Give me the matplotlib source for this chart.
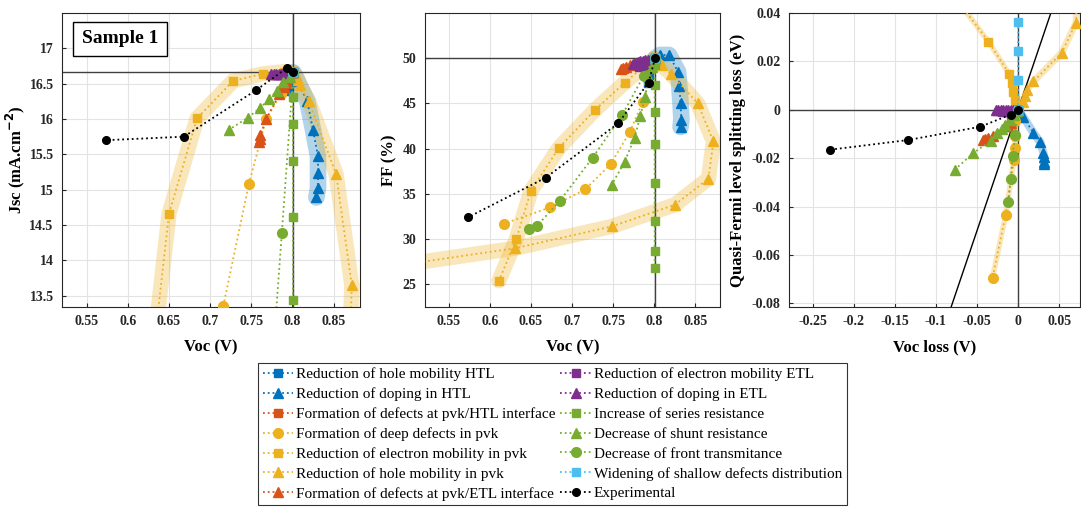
import numpy as np
import matplotlib.pyplot as plt
from matplotlib.ticker import FuncFormatter, MultipleLocator

plt.rcParams['font.family'] = ['Liberation Serif', 'DejaVu Serif']

# MATLAB default colours
blue = '#0072BD'
orange = '#D95319'
yellow = '#EDB120'
purple = '#7E2F8E'
green = '#77AC30'
cyan = '#4DBEEE'

# reference device
voc_ref = 0.801
jsc_ref = 16.66
ff_ref = 50.0

# ---- data ----
# Reduction of hole mobility HTL
hmhtl_voc = [0.801, 0.799, 0.797, 0.794, 0.792]
hmhtl_jsc = [16.66, 16.60, 16.53, 16.45, 16.39]
hmhtl_ff = [50.0, 49.6, 49.0, 48.2, 47.3]
hmhtl_dv = [0.0, -0.003, -0.006, -0.009]
hmhtl_dq = [0.0, -0.0005, -0.001, -0.0015]

# Reduction of doping in HTL
dhtl_voc1 = [0.801, 0.806, 0.818, 0.825, 0.831, 0.831, 0.831, 0.829]
dhtl_jsc = [16.66, 16.54, 16.25, 15.84, 15.47, 15.24, 15.02, 14.89]
dhtl_voc2 = [0.801, 0.807, 0.818, 0.829, 0.8305, 0.832, 0.833, 0.832]
dhtl_ff = [50.0, 50.36, 50.36, 48.5, 46.9, 45.0, 43.2, 42.4]
dhtl_dv = [0.0, 0.0065, 0.0187, 0.027, 0.031, 0.0315, 0.0315, 0.0315]
dhtl_dq = [0.0, -0.003, -0.0095, -0.0133, -0.0178, -0.0196, -0.0215, -0.0225]

# Formation of defects at pvk/HTL interface
dfhtl_voc = [0.801, 0.797, 0.793, 0.789]
dfhtl_jsc = [16.66, 16.58, 16.50, 16.41]
dfhtl_ff = [50.0, 49.5, 48.8, 48.2]
dfhtl_dv = [0.0, -0.004, -0.008, -0.012]
dfhtl_dq = [0.0, -0.002, -0.0045, -0.007]

# Formation of deep defects in pvk
deep_voc = [0.801, 0.786, 0.768, 0.747, 0.716, 0.673, 0.617]
deep_jsc = [16.66, 16.35, 16.0, 15.08, 13.36, 11.0, 9.0]
deep_voc2 = [0.801, 0.786, 0.770, 0.747, 0.716, 0.673, 0.617]
deep_ff = [50.0, 45.2, 41.8, 38.3, 35.5, 33.5, 31.7]
deep_dv = [0.0, -0.0037, -0.004, -0.0037, -0.0049, -0.015, -0.031]
deep_dq = [0.0, -0.0048, -0.011, -0.0158, -0.0206, -0.0433, -0.0694]

# Reduction of electron mobility in pvk
empvk_voc = [0.801, 0.790, 0.764, 0.728, 0.684, 0.650, 0.632, 0.611]
empvk_jsc = [16.66, 16.67, 16.64, 16.54, 16.01, 14.66, 12.8, 11.0]
empvk_ff = [50.0, 49.3, 47.3, 44.3, 40.1, 35.35, 30.0, 25.4]
empvk_dv = [0.0, -0.0016, -0.0037, -0.0057, -0.0077, -0.0106, -0.036, -0.08]
empvk_dq = [0.0, 0.0016, 0.0041, 0.0073, 0.011, 0.0148, 0.0282, 0.048]

# Reduction of hole mobility in pvk
hmpvk_voc = [0.801, 0.804, 0.807, 0.809, 0.820, 0.853, 0.872, 0.866, 0.825, 0.748, 0.631, 0.45]
hmpvk_jsc = [16.66, 16.62, 16.55, 16.48, 16.25, 15.22, 13.65, 11.5, 9.5, 8.0, 6.5, 5.0]
hmpvk_ff = [50.0, 49.8, 49.5, 49.2, 48.3, 45.0, 40.8, 36.7, 33.8, 31.4, 29.0, 26.6]
hmpvk_dv = [0.0, 0.0057, 0.0085, 0.0106, 0.0187, 0.0533, 0.0707, 0.073]
hmpvk_dq = [0.0, 0.0034, 0.0055, 0.0082, 0.0117, 0.0236, 0.036, 0.06]

# Formation of defects at pvk/ETL interface
dfetl_voc = [0.801, 0.790, 0.784, 0.768, 0.761, 0.760, 0.759]
dfetl_jsc = [16.66, 16.45, 16.35, 16.0, 15.77, 15.72, 15.68]
dfetl_voc2 = [0.801, 0.790, 0.784, 0.770, 0.765, 0.762, 0.760]
dfetl_ff = [50.0, 49.6, 49.5, 49.2, 49.0, 48.9, 48.8]
dfetl_dv = [0.0, -0.008, -0.012, -0.03, -0.036, -0.04, -0.043]
dfetl_dq = [0.0, -0.0055, -0.0068, -0.011, -0.0118, -0.012, -0.0124]

# Reduction of electron mobility ETL
emetl_voc = [0.801, 0.797, 0.793, 0.789, 0.785, 0.781]
emetl_jsc = [16.66, 16.65, 16.64, 16.63, 16.62, 16.62]
emetl_ff = [50.0, 49.7, 49.5, 49.3, 49.1, 49.0]
emetl_dv = [0.0, -0.005, -0.01, -0.015, -0.02]
emetl_dq = [0.0, -0.0003, -0.0006, -0.0008, -0.001]

# Reduction of doping in ETL
detl_voc = [0.801, 0.798, 0.795, 0.792, 0.789, 0.786, 0.783, 0.780, 0.777, 0.774]
detl_jsc = [16.66, 16.66, 16.65, 16.65, 16.65, 16.64, 16.64, 16.64, 16.63, 16.63]
detl_ff = [50.0, 49.9, 49.85, 49.8, 49.75, 49.7, 49.65, 49.6, 49.5, 49.4]
detl_dv = [0.0, -0.003, -0.006, -0.009, -0.012, -0.015, -0.018, -0.021, -0.024, -0.027]
detl_dq = [0.0, 0.0, 0.0, 0.0, 0.0, 0.0, 0.0, 0.0, 0.0, 0.0]

# Increase of series resistance
rs_voc = [0.801, 0.8005, 0.8005, 0.8005, 0.8005, 0.8005, 0.8005, 0.8005, 0.8005]
rs_jsc = [16.66, 16.31, 15.93, 15.40, 14.62, 13.44, 11.8, 10.0, 8.5]
rs_ff = [50.0, 49.26, 47.05, 44.1, 40.5, 36.24, 32.04, 28.72, 26.77]
rs_dv = [0.0, 0.0, 0.0]
rs_dq = [0.0, -0.0005, -0.001]

# Decrease of shunt resistance
rsh_voc1 = [0.801, 0.797, 0.789, 0.781, 0.772, 0.761, 0.746, 0.723]
rsh_jsc = [16.66, 16.60, 16.52, 16.40, 16.29, 16.16, 16.02, 15.85]
rsh_voc2 = [0.801, 0.797, 0.793, 0.789, 0.783, 0.776, 0.764, 0.748]
rsh_ff = [50.0, 49.0, 47.7, 45.75, 43.6, 41.2, 38.56, 35.98]
rsh_dv = [0.0, -0.005, -0.0098, -0.0159, -0.02, -0.026, -0.033, -0.0545, -0.0768]
rsh_dq = [0.0, -0.002, -0.0041, -0.0062, -0.008, -0.0096, -0.0127, -0.0179, -0.0247]

# Decrease of front transmitance
tr_voc = [0.801, 0.787, 0.761, 0.725, 0.685, 0.657, 0.648]
tr_jsc = [16.66, 14.38, 10.2, 7.5, 5.5, 4.5, 4.2]
tr_ff = [50.0, 48.04, 43.73, 39.0, 34.22, 31.45, 31.08]
tr_dv = [0.0, -0.0037, -0.0065, -0.0089, -0.0118]
tr_dq = [0.0, -0.0103, -0.019, -0.0286, -0.038]

# Widening of shallow defects distribution
sh_voc = [0.801, 0.801, 0.801, 0.801]
sh_jsc = [16.66, 16.66, 16.66, 16.66]
sh_ff = [50.0, 50.0, 50.0, 50.0]
sh_dv = [0.0, 0.0, 0.0, 0.0]
sh_dq = [0.0, 0.0122, 0.0243, 0.0364]

# Experimental
exp_voc = [0.801, 0.793, 0.756, 0.668, 0.573]
exp_jsc = [16.66, 16.72, 16.41, 15.75, 15.70]
exp_ff = [50.0, 47.3, 42.8, 36.8, 32.4]
exp_dv = [0.0, -0.009, -0.046, -0.134, -0.229]
exp_dq = [0.0, -0.002, -0.007, -0.0125, -0.0165]

# ---- figure ----
fig = plt.figure(figsize=(10.81, 5.09), dpi=100)
ax1 = fig.add_axes([62/1081, 1-307/509, 298/1081, 294/509])
ax2 = fig.add_axes([425/1081, 1-307/509, 295/1081, 294/509])
ax3 = fig.add_axes([789/1081, 1-307/509, 291/1081, 294/509])


def series(ax, x, y, c, m, ms, label=None, band=0, z=3):
    if band:
        ax.plot(x, y, '-', color=c, lw=band, alpha=0.3, solid_capstyle='round',
                solid_joinstyle='round', zorder=1)
    ln, = ax.plot(x, y, ':', color=c, lw=1.3, marker=m, ms=ms, mfc=c, mec=c,
                  label=label, zorder=z)
    return ln


ms_sq, ms_tr, ms_ci = 6, 7.5, 7

lab = ['Reduction of hole mobility HTL', 'Reduction of doping in HTL',
       'Formation of defects at pvk/HTL interface', 'Formation of deep defects in pvk',
       'Reduction of electron mobility in pvk', 'Reduction of hole mobility in pvk',
       'Formation of defects at pvk/ETL interface', 'Reduction of electron mobility ETL',
       'Reduction of doping in ETL', 'Increase of series resistance',
       'Decrease of shunt resistance', 'Decrease of front transmitance',
       'Widening of shallow defects distribution', 'Experimental']

# panel 1: Jsc vs Voc
h = []
h.append(series(ax1, hmhtl_voc, hmhtl_jsc, blue, 's', ms_sq, lab[0]))
h.append(series(ax1, dhtl_voc1, dhtl_jsc, blue, '^', ms_tr, lab[1], band=12))
h.append(series(ax1, dfhtl_voc, dfhtl_jsc, orange, 's', ms_sq, lab[2]))
h.append(series(ax1, deep_voc, deep_jsc, yellow, 'o', ms_ci, lab[3]))
h.append(series(ax1, empvk_voc, empvk_jsc, yellow, 's', ms_sq, lab[4], band=11))
h.append(series(ax1, hmpvk_voc, hmpvk_jsc, yellow, '^', ms_tr, lab[5], band=11))
h.append(series(ax1, dfetl_voc, dfetl_jsc, orange, '^', ms_tr, lab[6]))
h.append(series(ax1, emetl_voc, emetl_jsc, purple, 's', ms_sq, lab[7]))
h.append(series(ax1, detl_voc, detl_jsc, purple, '^', ms_tr, lab[8]))
h.append(series(ax1, rs_voc, rs_jsc, green, 's', ms_sq, lab[9]))
h.append(series(ax1, rsh_voc1, rsh_jsc, green, '^', ms_tr, lab[10]))
h.append(series(ax1, tr_voc, tr_jsc, green, 'o', ms_ci, lab[11]))
h.append(series(ax1, sh_voc, sh_jsc, cyan, 's', ms_sq, lab[12]))
h.append(series(ax1, exp_voc, exp_jsc, 'k', 'o', 5.5, lab[13], z=5))

# panel 2: FF vs Voc
series(ax2, hmhtl_voc, hmhtl_ff, blue, 's', ms_sq)
series(ax2, dhtl_voc2, dhtl_ff, blue, '^', ms_tr, band=12)
series(ax2, dfhtl_voc, dfhtl_ff, orange, 's', ms_sq)
series(ax2, deep_voc2, deep_ff, yellow, 'o', ms_ci)
series(ax2, empvk_voc, empvk_ff, yellow, 's', ms_sq, band=11)
series(ax2, hmpvk_voc, hmpvk_ff, yellow, '^', ms_tr, band=11)
series(ax2, dfetl_voc2, dfetl_ff, orange, '^', ms_tr)
series(ax2, emetl_voc, emetl_ff, purple, 's', ms_sq)
series(ax2, detl_voc, detl_ff, purple, '^', ms_tr)
series(ax2, rs_voc, rs_ff, green, 's', ms_sq)
series(ax2, rsh_voc2, rsh_ff, green, '^', ms_tr)
series(ax2, tr_voc, tr_ff, green, 'o', ms_ci)
series(ax2, sh_voc, sh_ff, cyan, 's', ms_sq)
series(ax2, exp_voc, exp_ff, 'k', 'o', 5.5, z=5)

# panel 3: QFLS loss vs Voc loss
series(ax3, hmhtl_dv, hmhtl_dq, blue, 's', ms_sq)
series(ax3, dhtl_dv, dhtl_dq, blue, '^', ms_tr, band=6)
series(ax3, dfhtl_dv, dfhtl_dq, orange, 's', ms_sq)
series(ax3, deep_dv, deep_dq, yellow, 'o', ms_ci, band=4)
series(ax3, empvk_dv, empvk_dq, yellow, 's', ms_sq, band=4)
series(ax3, hmpvk_dv, hmpvk_dq, yellow, '^', ms_tr, band=5)
series(ax3, dfetl_dv, dfetl_dq, orange, '^', ms_tr)
series(ax3, emetl_dv, emetl_dq, purple, 's', ms_sq)
series(ax3, detl_dv, detl_dq, purple, '^', ms_tr)
series(ax3, rs_dv, rs_dq, green, 's', ms_sq)
series(ax3, rsh_dv, rsh_dq, green, '^', ms_tr)
series(ax3, tr_dv, tr_dq, green, 'o', ms_ci)
series(ax3, sh_dv, sh_dq, cyan, 's', ms_sq)
series(ax3, exp_dv, exp_dq, 'k', 'o', 5.5, z=5)

# reference lines
ref_c = '#404040'
ax1.axvline(voc_ref, color=ref_c, lw=1, zorder=2)
ax1.axhline(jsc_ref, color=ref_c, lw=1, zorder=2)
ax2.axvline(voc_ref, color=ref_c, lw=1, zorder=2)
ax2.axhline(ff_ref, color=ref_c, lw=1, zorder=2)
ax3.axvline(0, color=ref_c, lw=1, zorder=2)
ax3.axhline(0, color=ref_c, lw=1, zorder=2)
ax3.plot([-0.1, 0.06], [-0.1, 0.06], color='k', lw=1, zorder=2)

ax1.set_xlim(0.52, 0.882)
ax1.set_ylim(13.34, 17.5)
ax1.xaxis.set_major_locator(MultipleLocator(0.05))
ax1.set_yticks([13.5, 14, 14.5, 15, 15.5, 16, 16.5, 17])
ax1.set_xlabel('Voc (V)', fontsize=12, fontweight='bold', labelpad=8)
ax1.set_ylabel('Jsc (mA.cm$^{\\mathbf{-2}}$)', fontsize=12, fontweight='bold', labelpad=2)

ax2.set_xlim(0.521, 0.88)
ax2.set_ylim(22.5, 55)
ax2.xaxis.set_major_locator(MultipleLocator(0.05))
ax2.set_yticks([25, 30, 35, 40, 45, 50])
ax2.set_xlabel('Voc (V)', fontsize=12, fontweight='bold', labelpad=8)
ax2.set_ylabel('FF (%)', fontsize=12, fontweight='bold')

ax3.set_xlim(-0.279, 0.0755)
ax3.set_ylim(-0.0815, 0.04)
ax3.set_xticks([-0.25, -0.2, -0.15, -0.1, -0.05, 0, 0.05])
ax3.set_yticks([-0.08, -0.06, -0.04, -0.02, 0, 0.02, 0.04])
ax3.set_xlabel('Voc loss (V)', fontsize=12, fontweight='bold', labelpad=8)
ax3.set_ylabel('Quasi-Fermi level splitting loss (eV)', fontsize=12, fontweight='bold')

fmt = FuncFormatter(lambda v, p: '%g' % round(v, 4))
for ax in (ax1, ax2, ax3):
    ax.grid(True, color='#e3e3e3', lw=0.8, zorder=0)
    ax.set_axisbelow(True)
    ax.xaxis.set_major_formatter(fmt)
    ax.yaxis.set_major_formatter(fmt)
    ax.tick_params(direction='in', length=3, color='#262626', labelsize=10,
                   labelcolor='#262626', pad=6)
    for lbl in ax.get_xticklabels() + ax.get_yticklabels():
        lbl.set_fontweight('bold')
    for sp in ax.spines.values():
        sp.set_color('#262626')
        sp.set_linewidth(0.8)

ax1.text(0.195, 0.912, 'Sample 1', transform=ax1.transAxes, fontsize=14,
         fontweight='bold', ha='center', va='center', zorder=6,
         bbox=dict(boxstyle='square,pad=0.45', fc='white', ec='k', lw=1))

leg = fig.legend(h, lab, loc='upper left', bbox_to_anchor=(258/1081, 1-363/509),
                 ncol=2, fontsize=11, frameon=True, fancybox=False,
                 edgecolor='k', borderaxespad=0, handlelength=2.0,
                 handletextpad=0.2, columnspacing=0.3, labelspacing=0.4,
                 borderpad=0.3)
leg.get_frame().set_linewidth(0.8)

plt.savefig('out.png', dpi=100)
